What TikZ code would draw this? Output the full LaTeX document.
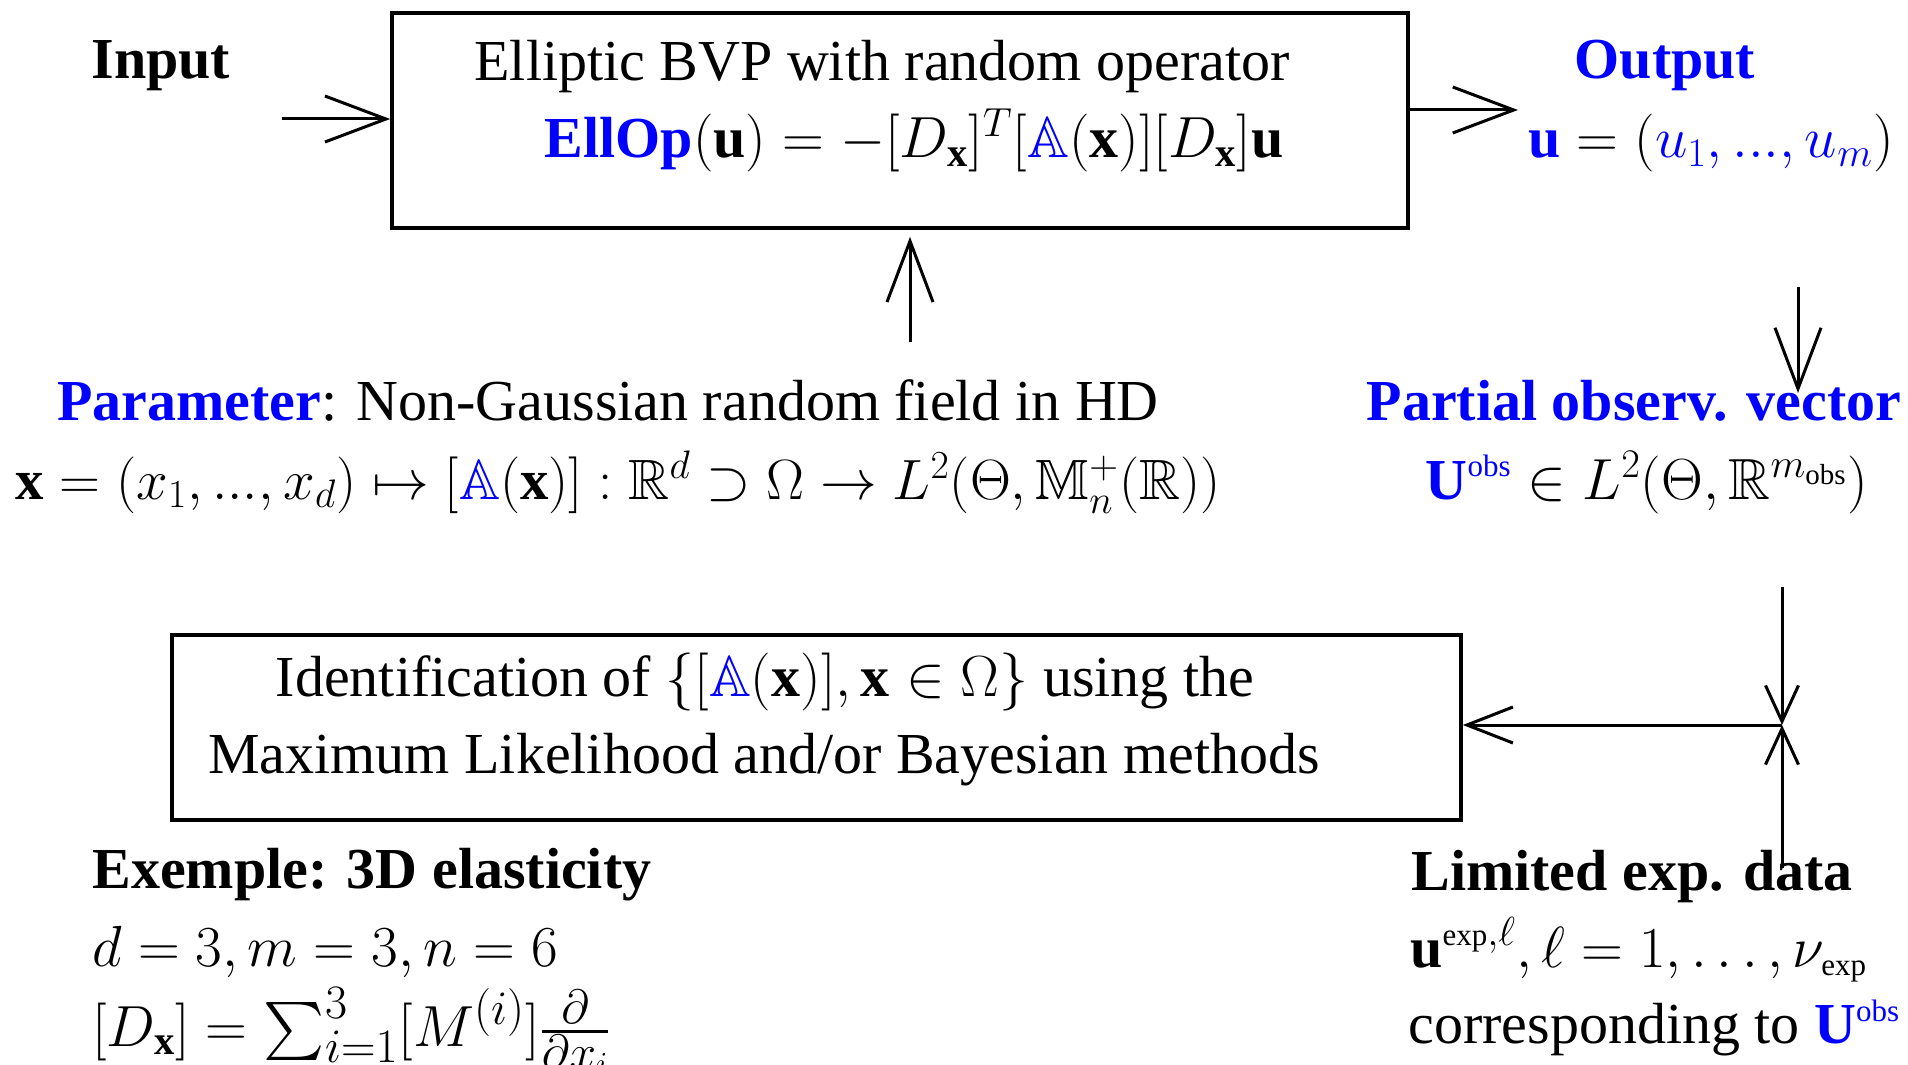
\RequirePackage{fix-cm}
\documentclass[tikz,border=0pt]{standalone}
\usepackage{amsmath,amssymb}
\usepackage[no-math]{fontspec}
\setmainfont{Liberation Serif}
\usetikzlibrary{arrows.meta}
\definecolor{obsblue}{RGB}{0,0,255}
\newcommand{\bx}{\text{\bfseries x}}
\newcommand{\bu}{\text{\bfseries u}}
\newcommand{\bl}[1]{\textcolor{obsblue}{#1}}
\newcommand{\smtxt}[1]{\text{\fontsize{15.5}{16}\selectfont\mdseries #1}}
\newcommand{\midm}[1]{\text{\fontsize{24}{24}\selectfont$#1$}}
\begin{document}
\begin{tikzpicture}[x=0.5pt,y=-0.5pt,
  every node/.style={inner sep=0pt, font=\fontsize{29}{35}\selectfont},
  lbl/.style={anchor=base west},
  clbl/.style={anchor=base},
  boxnode/.style={draw, line width=1.8pt, rectangle, inner sep=0pt},
  conn/.style={line width=1.5pt},
  bighead/.style={-{Straight Barb[length=30.5pt,width=23pt]}},
  smallhead/.style={-{Straight Barb[length=18pt,width=16.5pt]}},
  midhead/.style={-{Straight Barb[length=23pt,width=18pt]}}]
\useasboundingbox (0,0) rectangle (1908,1065);
\clip (0,0) rectangle (1908,1065);

% top
\node[clbl] (inlbl) at (161,79) {\textbf{Input}};
\node[boxnode, minimum width=508pt, minimum height=107.5pt] (bvp) at (900,120.5) {};
\node[clbl] (bvp1) at (882,81) {Elliptic BVP with random operator};
\node[clbl] (bvp2) at (914,158) {$\bl{\textbf{EllOp}}(\bu) = -[D_{\bx}]^T[\bl{\mathbb{A}}(\bx)][D_{\bx}]\bu$};
\node[clbl] (outlbl) at (1665,79) {\bl{\textbf{Output}}};
\node[clbl] (outvec) at (1711,158) {$\bl{\bu} = (\bl{u_1, ..., u_m})$};

% middle
\node[clbl] (par1) at (608,420) {\bl{\textbf{Parameter}}: Non-Gaussian random field in HD};
\node[clbl, font=\fontsize{28.4}{34}\selectfont] (par2) at (618,499) {$\bx = (x_1, ..., x_d) \mapsto [\bl{\mathbb{A}}(\bx)] : \mathbb{R}^d \supset \Omega \rightarrow L^2(\Theta, \mathbb{M}_n^+(\mathbb{R}))$};
\node[clbl] (obs1) at (1634,420) {\bl{\textbf{Partial observ. vector}}};
\node[clbl] (obs2) at (1647,499) {$\bl{\textbf{U}^{\smtxt{obs}}} \in L^2(\Theta, \mathbb{R}^{m_{\text{obs}}})$};

% bottom box
\node[boxnode, minimum width=644.5pt, minimum height=92.5pt] (ident) at (816.5,727.5) {};
\node[clbl] (id1) at (765,696) {Identification of $\{[\bl{\mathbb{A}}(\bx)], \bx \in \Omega\}$ using the};
\node[clbl] (id2) at (764,773) {Maximum Likelihood and/or Bayesian methods};

% bottom texts
\node[lbl] (ex1) at (92,888) {\textbf{Exemple: 3D elasticity}};
\node[lbl] (ex2) at (92,966) {$d = 3, m = 3, n = 6$};
\node[lbl] (ex3) at (92,1046) {$[D_{\bx}] = \sum_{\midm{i{=}1}}^{\midm{3}} [M^{\midm{(i)}}] \frac{\midm{\partial}}{\midm{\partial x_i}}$};
\node[lbl] (lim1) at (1411,890) {\textbf{Limited exp. data}};
\node[lbl] (lim2) at (1410,967) {$\bu^{\smtxt{exp},\ell}, \ell = 1, \ldots, \nu_{\smtxt{exp}}$};
\node[lbl] (lim3) at (1408,1043) {corresponding to \bl{\textbf{U}$^{\smtxt{obs}}$}};

% connectors
\coordinate (inS) at (282,119);
\draw[conn,bighead] (inS) -- (inS -| bvp.west);
\coordinate (outE) at (1518,110);
\draw[conn,bighead] (outE -| bvp.east) -- (outE);
\coordinate (parS) at (910,342);
\draw[conn,bighead] (parS) -- ([yshift=-3.5pt]parS |- bvp.south);
\coordinate (obsS) at (1798,287);
\coordinate (obsE) at (1798,393);
\draw[conn,bighead] (obsS) -- (obsE);
\coordinate (J) at (1782,725);
\coordinate (jTop) at (1782,587);
\coordinate (jBot) at (1782,868);
\draw[conn,smallhead] (jTop) -- (J);
\draw[conn,smallhead] (jBot) -- (J);
\draw[conn,midhead] (J) -- (J -| ident.east);
\end{tikzpicture}
\end{document}
